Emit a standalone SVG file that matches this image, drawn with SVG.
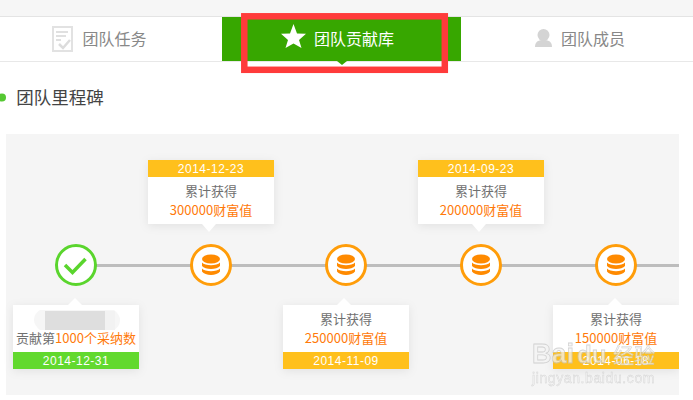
<svg xmlns="http://www.w3.org/2000/svg" width="693" height="400" viewBox="0 0 693 400">
<style>
text{font-family:"Noto Sans CJK SC","Liberation Sans",sans-serif;text-anchor:middle}
.tab{font-size:16px;fill:#888}
.g{font-size:13px;fill:#707070}
.o{font-size:13px;fill:#ff7a0a}
.d{font-size:12px;fill:#fff;font-family:"Liberation Sans",sans-serif;letter-spacing:.5px}
.y{fill:#ffc01c}
.card{fill:#fff;filter:url(#s)}
.ring{fill:#fff;stroke:#ff9d0a;stroke-width:3}
.coin{fill:#ff8a00}
.wm{text-anchor:start;fill:#f4f4f4;stroke:#c4c4c4}
</style>
<defs>
<filter id="s" x="-20%" y="-25%" width="140%" height="150%"><feDropShadow dx="0" dy="2" stdDeviation="5" flood-color="#000" flood-opacity=".08"/></filter>
<g id="coins"><ellipse class="coin" cx="0" cy="-6" rx="9" ry="4.600"/><path class="coin" d="M-9-2.500C-6 1 6 1 9-2.500V1C6 5-6 5-9 1Z"/><path class="coin" d="M-9 3.500C-6 7 6 7 9 3.500V6.500C6 11-6 11-9 6.500Z"/></g>
</defs>
<rect width="693" height="400" fill="#fff"/>
<rect width="693" height="16" fill="#f6f6f6"/>
<rect y="16" width="693" height="1" fill="#e4e4e4"/>
<rect y="61" width="693" height="1" fill="#e8e8e8"/>
<g id="tab-tasks">
<path d="M53 27H72V51H53Z" fill="#fff" stroke="#e2e2e2" stroke-width="2"/>
<path d="M56 32H68M56 36H66M56 40H61" stroke="#e0e0e0" stroke-width="2" fill="none"/>
<path d="M59 44L63 48L70 40" stroke="#dcdcdc" stroke-width="2.500" fill="none"/>
<text class="tab" x="114.500" y="45">团队任务</text>
</g>
<g id="tab-contrib">
<rect x="222" y="17" width="239" height="44" fill="#37a700"/>
<path d="M337 61H347L342 65Z" fill="#37a700"/>
<path d="M293.500 24L297 33.500L306 33.800L299 40L301.500 48L293.500 43.500L285.500 48L288 40L281 33.800L290 33.500Z" fill="#fff"/>
<text class="tab" x="354" y="45" style="fill:#fff">团队贡献库</text>
</g>
<g id="tab-members">
<circle cx="543.500" cy="35" r="6" fill="#d4d4d4"/>
<path d="M535 47C535 41 539 40 543.500 40C548 40 552 41 552 47Z" fill="#d4d4d4"/>
<text class="tab" x="593" y="45">团队成员</text>
</g>
<g id="heading">
<circle cx="2" cy="97.500" r="4" fill="#55c832"/>
<text x="60" y="104" style="font-size:17.500px;fill:#444">团队里程碑</text>
</g>
<rect x="6" y="134" width="673" height="261" fill="#f5f5f5"/>
<g id="connectors" stroke="#bdbdbd" stroke-width="3"><path d="M76 265.500H679" fill="none"/></g>
<g id="node-1">
<circle cx="76" cy="265" r="19.500" fill="#fff" stroke="#5ad52d" stroke-width="3"/>
<path d="M65 265L72.500 272.500L85.500 259" fill="none" stroke="#5ad52d" stroke-width="3.500"/>
<rect class="card" x="13" y="305" width="126" height="64"/>
<path d="M68 305L75 298L82 305Z" fill="#fff"/>
<path d="M40 310H114Q120 315 120 320Q120 326 114 330H40Q34 325 34 320Q34 314 40 310Z" fill="#f6f6f6"/>
<rect x="45" y="311" width="60" height="19" fill="#dedede"/>
<rect x="105" y="311" width="10" height="19" fill="#f2f2f2"/>
<text x="76" y="343" style="font-size:13px;fill:#707070"><tspan>贡献第</tspan><tspan fill="#ff7a0a">1000个采纳数</tspan></text>
<rect x="13" y="352" width="126" height="17" fill="#62d92e"/>
<text class="d" x="76" y="365">2014-12-31</text>
</g>
<g id="node-2">
<rect class="card" x="148" y="160" width="126" height="64"/>
<path d="M202 224L209 232L216 224Z" fill="#fff"/>
<rect class="y" x="148" y="160" width="126" height="17"/>
<text class="d" x="211" y="173">2014-12-23</text>
<text class="g" x="211" y="196">累计获得</text>
<text class="o" x="211" y="215">300000财富值</text>
<circle class="ring" cx="211" cy="265" r="19.500"/>
<use href="#coins" x="211" y="265"/>
</g>
<g id="node-3">
<circle class="ring" cx="346" cy="265" r="19.500"/>
<use href="#coins" x="346" y="265"/>
<rect class="card" x="283" y="305" width="126" height="64"/>
<path d="M337 305L344 298L351 305Z" fill="#fff"/>
<text class="g" x="346" y="324">累计获得</text>
<text class="o" x="346" y="343">250000财富值</text>
<rect class="y" x="283" y="352" width="126" height="17"/>
<text class="d" x="346" y="365">2014-11-09</text>
</g>
<g id="node-4">
<rect class="card" x="418" y="160" width="126" height="64"/>
<path d="M472 224L479 232L486 224Z" fill="#fff"/>
<rect class="y" x="418" y="160" width="126" height="17"/>
<text class="d" x="481" y="173">2014-09-23</text>
<text class="g" x="481" y="196">累计获得</text>
<text class="o" x="481" y="215">200000财富值</text>
<circle class="ring" cx="481" cy="265" r="19.500"/>
<use href="#coins" x="481" y="265"/>
</g>
<g id="node-5">
<circle class="ring" cx="616" cy="265" r="19.500"/>
<use href="#coins" x="616" y="265"/>
<rect class="card" x="553" y="305" width="126" height="64"/>
<path d="M608 305L615 298L622 305Z" fill="#fff"/>
<text class="g" x="616" y="324">累计获得</text>
<text class="o" x="616" y="343">150000财富值</text>
<rect class="y" x="553" y="352" width="126" height="17"/>
<text class="d" x="616" y="365">2014-06-18</text>
</g>
<rect x="679" y="134" width="14" height="266" fill="#fff"/>
<g id="watermark" opacity=".72">
<text class="wm" x="532" y="363" style="font-family:'Liberation Sans',sans-serif;font-size:27px;font-weight:700;stroke-width:.8">Bai</text>
<text class="wm" x="577" y="363" style="font-family:'Liberation Sans',sans-serif;font-size:24px;font-weight:700;stroke-width:.8">du</text>
<text class="wm" x="613" y="363" style="font-size:21px;stroke-width:.6">经验</text>
<text class="wm" x="532" y="383" style="font-family:'Liberation Sans',sans-serif;font-size:14px;stroke-width:.4;letter-spacing:.6px">jingyan.baidu.com</text>
</g>
<g id="highlight"><rect x="244.300" y="16.300" width="200.500" height="53.500" fill="none" stroke="#ff3b3b" stroke-width="6.500"/></g>
</svg>
